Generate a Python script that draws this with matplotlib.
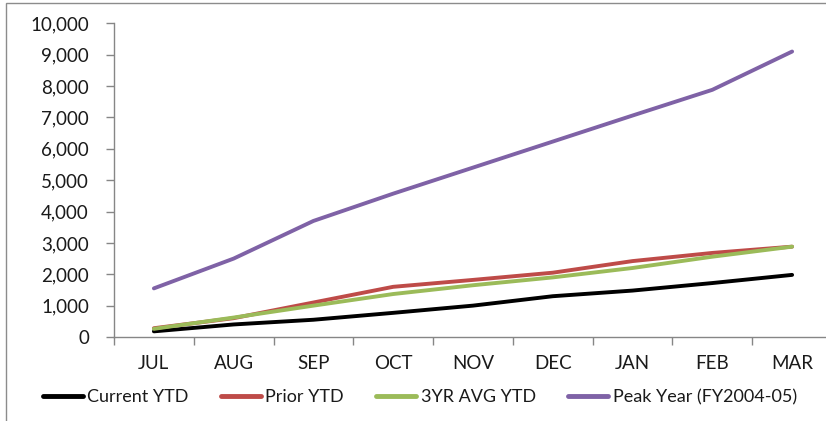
import matplotlib
matplotlib.use("Agg")
import matplotlib.pyplot as plt
from matplotlib.patches import Rectangle
from matplotlib.ticker import FuncFormatter

months = ["JUL", "AUG", "SEP", "OCT", "NOV", "DEC", "JAN", "FEB", "MAR"]
current_ytd = [180, 400, 550, 770, 1000, 1300, 1480, 1720, 1980]
prior_ytd = [280, 600, 1100, 1600, 1820, 2050, 2420, 2680, 2880]
avg3yr_ytd = [260, 620, 1000, 1370, 1650, 1900, 2200, 2560, 2880]
peak_year = [1550, 2500, 3700, 4570, 5400, 6230, 7060, 7880, 9100]

series = [
    ("Current YTD", current_ytd, "#000000"),
    ("Prior YTD", prior_ytd, "#BE4B48"),
    ("3YR AVG YTD", avg3yr_ytd, "#9BBB59"),
    ("Peak Year (FY2004-05)", peak_year, "#7F62A6"),
]

plt.rcParams["font.family"] = ["Lato", "DejaVu Sans"]
DPI = 100
FS = 13.5
LEG_FS = 13
TXT = "#1A1A1A"
fig = plt.figure(figsize=(8.26, 4.21), dpi=DPI)

# outer chart frame
fig.patches.append(Rectangle((6 / 826, -0.05), 1.1, 1 - 3 / 421 + 0.05,
                             transform=fig.transFigure, fill=False,
                             edgecolor="#8C8C8C", linewidth=1.0))

ax = fig.add_axes([114 / 826, 1 - 337 / 421, (832 - 114) / 826, (337 - 23.3) / 421])

x = list(range(len(months)))
for name, vals, col in series:
    ax.plot(x, vals, color=col, linewidth=2.8, label=name, solid_capstyle="round",
            solid_joinstyle="round")

ax.set_xlim(-0.5, len(months) - 0.5)
ax.set_ylim(0, 10000)
ax.set_yticks(range(0, 10001, 1000))
ax.yaxis.set_major_formatter(FuncFormatter(lambda v, p: f"{int(v):,}"))
ax.set_xticks([i - 0.5 for i in range(len(months) + 1)])
ax.set_xticklabels([])
ax.set_xticks(x, minor=True)
ax.set_xticklabels(months, minor=True)

gray = "#868686"
for s in ["top", "right"]:
    ax.spines[s].set_visible(False)
for s in ["left", "bottom"]:
    ax.spines[s].set_color(gray)
    ax.spines[s].set_linewidth(1.0)

ax.tick_params(axis="y", which="major", direction="out", length=6, width=1.0,
               color=gray, labelsize=FS, labelcolor=TXT, pad=12)
ax.tick_params(axis="x", which="major", direction="out", length=6, width=1.0, color=gray)
ax.tick_params(axis="x", which="minor", length=0, labelsize=FS,
               labelcolor=TXT, pad=13)

leg = fig.legend(loc="center left", bbox_to_anchor=(43 / 826, 1 - 397 / 421),
                 ncol=4, frameon=False, fontsize=LEG_FS, handlelength=2.2,
                 handletextpad=0.25, columnspacing=1.8, borderaxespad=0,
                 borderpad=0)
for t in leg.get_texts():
    t.set_color(TXT)
for h in leg.get_lines():
    h.set_linewidth(3.5)

fig.savefig("out.png", dpi=DPI)
